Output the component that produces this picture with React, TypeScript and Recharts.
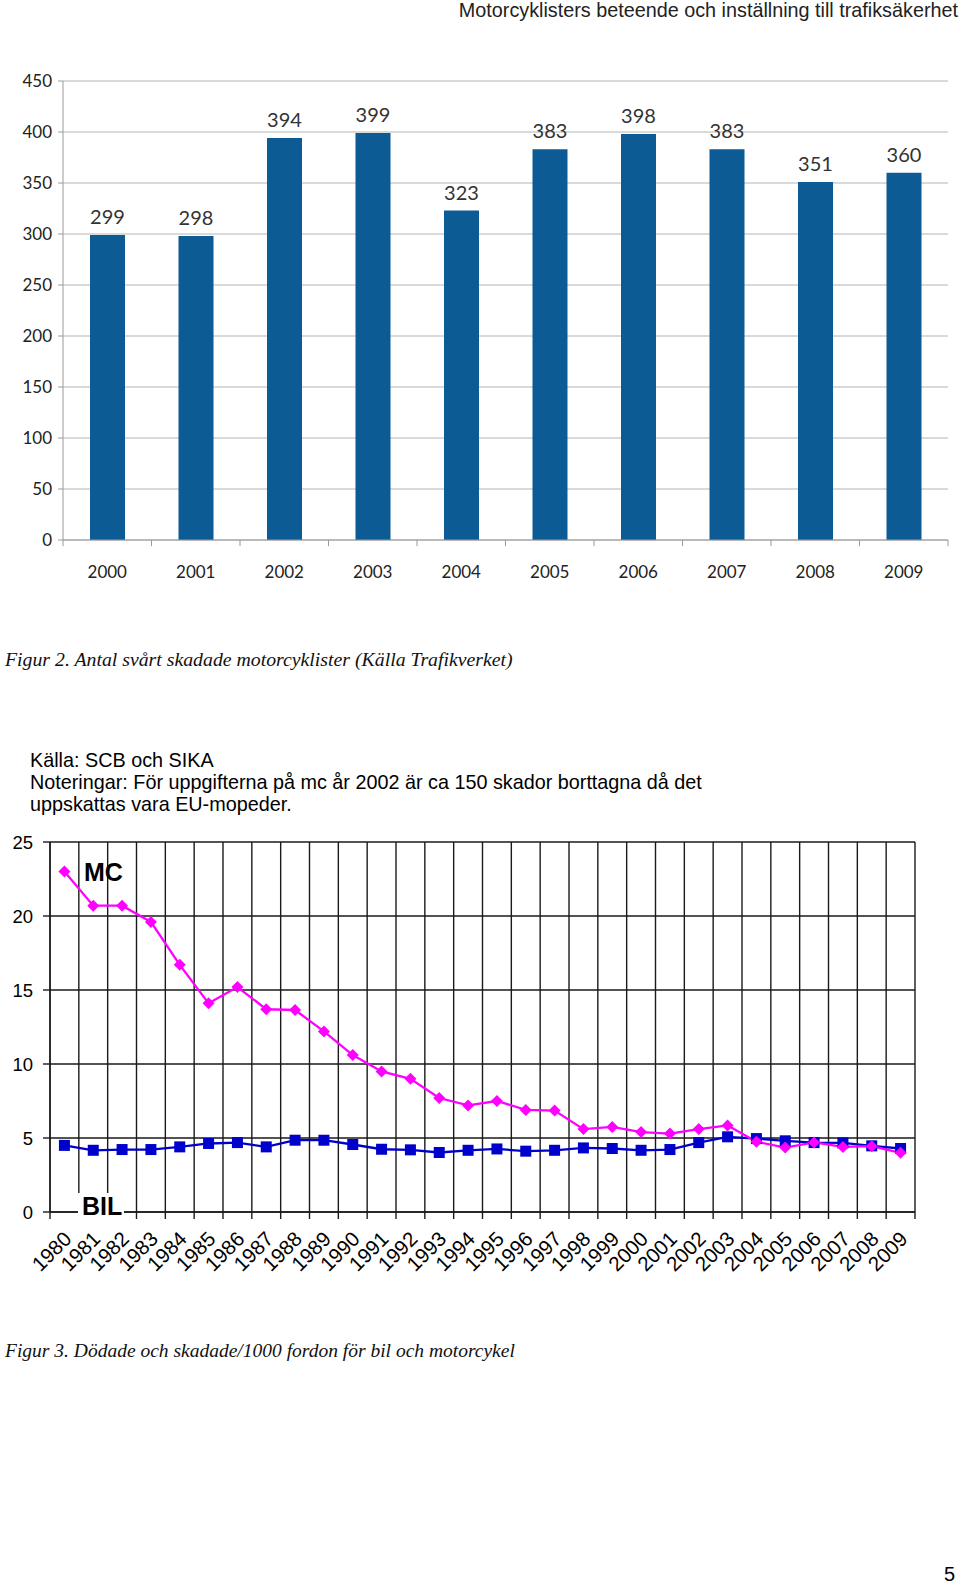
import React from "react";
import {
  BarChart,
  Bar,
  LineChart,
  Line,
  XAxis,
  YAxis,
  CartesianGrid,
  LabelList,
  ReferenceLine,
} from "recharts";

// Figur 2 – svårt skadade motorcyklister
const barYears = ["2000", "2001", "2002", "2003", "2004", "2005", "2006", "2007", "2008", "2009"];
const injured = [299, 298, 394, 399, 323, 383, 398, 383, 351, 360];
const barTicks = [0, 50, 100, 150, 200, 250, 300, 350, 400, 450];

// Figur 3 – dödade och skadade / 1000 fordon
const lineYears = [
  "1980", "1981", "1982", "1983", "1984", "1985", "1986", "1987", "1988", "1989",
  "1990", "1991", "1992", "1993", "1994", "1995", "1996", "1997", "1998", "1999",
  "2000", "2001", "2002", "2003", "2004", "2005", "2006", "2007", "2008", "2009",
];
const mc = [
  23.0, 20.7, 20.7, 19.6, 16.7, 14.1, 15.2, 13.7, 13.65, 12.2,
  10.6, 9.5, 9.0, 7.7, 7.2, 7.5, 6.9, 6.85, 5.6, 5.75,
  5.4, 5.3, 5.6, 5.85, 4.75, 4.35, 4.7, 4.4, 4.45, 4.0,
];
const bil = [
  4.5, 4.17, 4.22, 4.22, 4.4, 4.63, 4.69, 4.4, 4.85, 4.85,
  4.56, 4.24, 4.2, 4.02, 4.17, 4.26, 4.11, 4.17, 4.33, 4.29,
  4.17, 4.22, 4.69, 5.08, 4.96, 4.81, 4.69, 4.67, 4.47, 4.29,
];
const lineTicks = [0, 5, 10, 15, 20, 25];

const barData = barYears.map((year, i) => ({ i, year, value: injured[i] }));
const barCenters = barYears.map((_, i) => i);
const barEdges = [...barCenters.map((i) => i - 0.5), barYears.length - 0.5];

const lineData = lineYears.map((year, i) => ({ i, year, mc: mc[i], bil: bil[i] }));
const lineCenters = lineYears.map((_, i) => i);
const lineEdges = [...lineCenters.map((i) => i - 0.5), lineYears.length - 0.5];

const BAR_COLOR = "#0c5b94";
const MC_COLOR = "#ff00ff";
const BIL_COLOR = "#0000cc";
const GRID = "#1a1a1a";
const SANS = "'Liberation Sans', Arial, sans-serif";
const CALIBRI_ISH = "Lato, 'Open Sans', sans-serif";

const Diamond = (p: any) => (
  <polygon
    key={`d-${p.index}`}
    points={`${p.cx},${p.cy - 6} ${p.cx + 6},${p.cy} ${p.cx},${p.cy + 6} ${p.cx - 6},${p.cy}`}
    fill={MC_COLOR}
  />
);

const Square = (p: any) => (
  <rect key={`s-${p.index}`} x={p.cx - 5.5} y={p.cy - 5.5} width={11} height={11} fill={BIL_COLOR} />
);

export default function App() {
  return (
    <div
      style={{
        position: "absolute",
        left: 0,
        top: 0,
        width: 960,
        height: 1584,
        background: "#fff",
        overflow: "hidden",
      }}
    >
      <div
        style={{
          position: "absolute",
          right: 2,
          top: -1,
          fontFamily: SANS,
          fontSize: 19.8,
          color: "#222",
          lineHeight: "22px",
        }}
      >
        Motorcyklisters beteende och inställning till trafiksäkerhet
      </div>

      <div style={{ position: "absolute", left: 0, top: 0 }}>
        <BarChart
          width={960}
          height={600}
          data={barData}
          margin={{ top: 81, right: 12, left: 8, bottom: 12 }}
        >
          <CartesianGrid vertical={false} stroke="#b4b4b4" strokeWidth={1} />
          <XAxis
            dataKey="i"
            type="number"
            domain={[-0.5, 9.5]}
            ticks={barCenters}
            interval={0}
            tickFormatter={(v: number) => barYears[v]}
            height={48}
            axisLine={{ stroke: "#9a9a9a" }}
            tickLine={false}
            tickMargin={20}
            tick={{ fontSize: 17, fill: "#222", fontFamily: CALIBRI_ISH }}
          />
          <YAxis
            domain={[0, 450]}
            ticks={barTicks}
            width={55}
            axisLine={{ stroke: "#9a9a9a" }}
            tickLine={{ stroke: "#9a9a9a" }}
            tickSize={5}
            tickMargin={6}
            tick={{ fontSize: 17, fill: "#222", fontFamily: CALIBRI_ISH }}
          />
          {barEdges.map((v) => (
            <ReferenceLine
              key={`bt-${v}`}
              segment={[
                { x: v, y: 0 },
                { x: v, y: -6 },
              ]}
              stroke="#9a9a9a"
              ifOverflow="visible"
            />
          ))}
          <Bar dataKey="value" fill={BAR_COLOR} barSize={35} isAnimationActive={false}>
            <LabelList
              dataKey="value"
              position="top"
              offset={11}
              style={{ fontSize: 20, fill: "#333", fontFamily: CALIBRI_ISH }}
            />
          </Bar>
        </BarChart>
      </div>

      <div
        style={{
          position: "absolute",
          left: 5,
          top: 648,
          fontFamily: "'Liberation Serif', 'DejaVu Serif', serif",
          fontStyle: "italic",
          fontSize: 19.8,
          color: "#111",
        }}
      >
        Figur 2. Antal svårt skadade motorcyklister (Källa Trafikverket)
      </div>

      <div
        style={{
          position: "absolute",
          left: 30,
          top: 749,
          fontFamily: SANS,
          fontSize: 19.8,
          lineHeight: "22px",
          color: "#000",
        }}
      >
        <div>Källa: SCB och SIKA</div>
        <div>Noteringar: För uppgifterna på mc år 2002 är ca 150 skador borttagna då det</div>
        <div>uppskattas vara EU-mopeder.</div>
      </div>

      <div style={{ position: "absolute", left: 0, top: 800 }}>
        <LineChart
          width={960}
          height={480}
          data={lineData}
          margin={{ top: 42, right: 45, left: 8, bottom: 8 }}
        >
          <CartesianGrid vertical={false} stroke={GRID} strokeWidth={1.4} />
          <XAxis
            type="number"
            dataKey="i"
            domain={[-0.5, 29.5]}
            ticks={lineCenters}
            tickFormatter={(v: number) => lineYears[v]}
            height={60}
            axisLine={{ stroke: GRID, strokeWidth: 1.4 }}
            tickLine={false}
            tickMargin={12}
            angle={-45}
            textAnchor="end"
            interval={0}
            tick={{ fontSize: 20.5, fill: "#000", fontFamily: SANS, dx: -2 }}
          />
          <YAxis
            domain={[0, 25]}
            ticks={lineTicks}
            width={42}
            axisLine={{ stroke: GRID, strokeWidth: 1.4 }}
            tickLine={{ stroke: GRID, strokeWidth: 1.4 }}
            tickSize={7}
            tickMargin={10}
            tick={{ fontSize: 18.5, fill: "#000", fontFamily: SANS }}
          />
          {lineEdges.map((v) => (
            <ReferenceLine
              key={`lg-${v}`}
              segment={[
                { x: v, y: 25 },
                { x: v, y: -0.47 },
              ]}
              stroke={GRID}
              strokeWidth={1.4}
              ifOverflow="visible"
            />
          ))}
          <Line
            dataKey="bil"
            stroke={BIL_COLOR}
            strokeWidth={2.3}
            dot={Square}
            isAnimationActive={false}
          />
          <Line
            dataKey="mc"
            stroke={MC_COLOR}
            strokeWidth={2.3}
            dot={Diamond}
            isAnimationActive={false}
          />
        </LineChart>
      </div>

      <div
        style={{
          position: "absolute",
          left: 84,
          top: 858,
          fontFamily: SANS,
          fontWeight: "bold",
          fontSize: 25,
          lineHeight: "28px",
        }}
      >
        MC
      </div>
      <div
        style={{
          position: "absolute",
          left: 78,
          top: 1193,
          padding: "0 2px 0 4px",
          background: "#fff",
          fontFamily: SANS,
          fontWeight: "bold",
          fontSize: 25,
          lineHeight: "27px",
        }}
      >
        BIL
      </div>

      <div
        style={{
          position: "absolute",
          left: 5,
          top: 1340,
          fontFamily: "'Liberation Serif', 'DejaVu Serif', serif",
          fontStyle: "italic",
          fontSize: 19.5,
          color: "#111",
        }}
      >
        Figur 3. Dödade och skadade/1000 fordon för bil och motorcykel
      </div>

      <div
        style={{
          position: "absolute",
          right: 5,
          top: 1563,
          fontFamily: SANS,
          fontSize: 20,
        }}
      >
        5
      </div>
    </div>
  );
}
